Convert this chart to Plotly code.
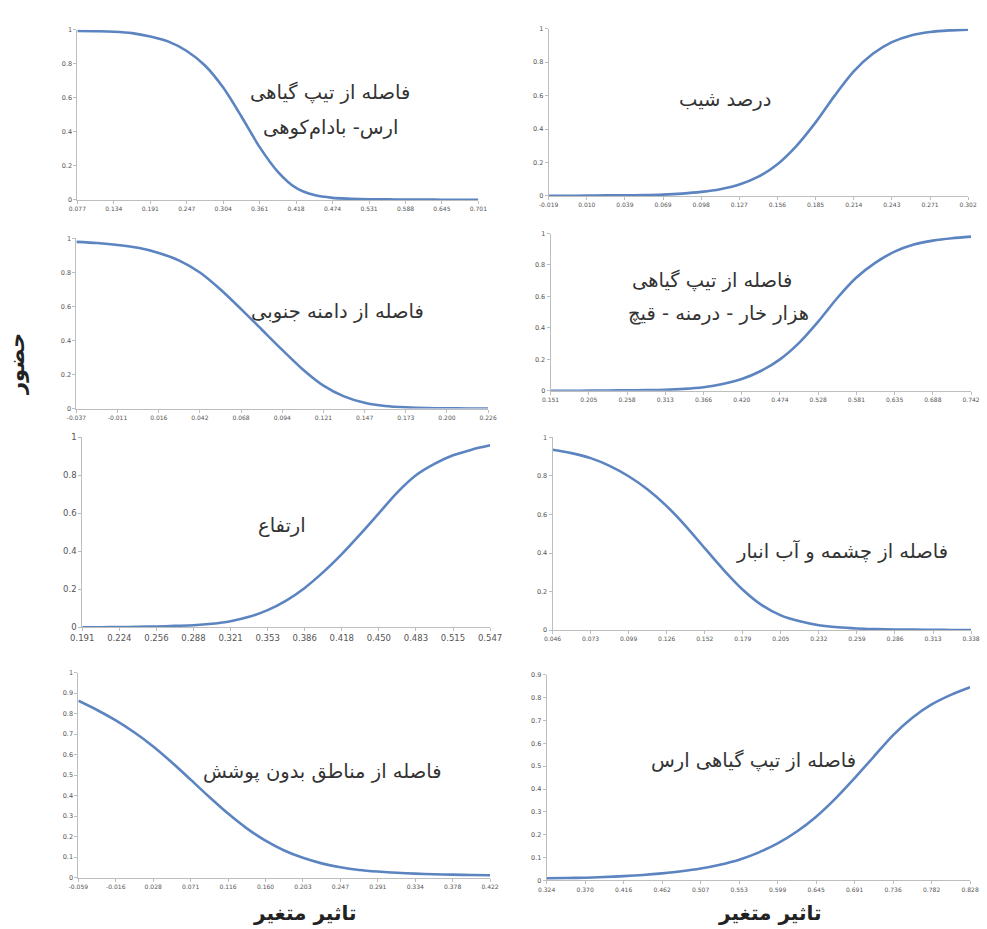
import plotly.graph_objects as go

# ---- tick labels (x) for each panel ----
labels_p1 = ["0.077", "0.134", "0.191", "0.247", "0.304", "0.361", "0.418", "0.474", "0.531", "0.588", "0.645", "0.701"]
labels_p2 = ["-0.019", "0.010", "0.039", "0.069", "0.098", "0.127", "0.156", "0.185", "0.214", "0.243", "0.271", "0.302"]
labels_p3 = ["-0.037", "-0.011", "0.016", "0.042", "0.068", "0.094", "0.121", "0.147", "0.173", "0.200", "0.226"]
labels_p4 = ["0.151", "0.205", "0.258", "0.313", "0.366", "0.420", "0.474", "0.528", "0.581", "0.635", "0.688", "0.742"]
labels_p5 = ["0.191", "0.224", "0.256", "0.288", "0.321", "0.353", "0.386", "0.418", "0.450", "0.483", "0.515", "0.547"]
labels_p6 = ["0.046", "0.073", "0.099", "0.126", "0.152", "0.179", "0.205", "0.232", "0.259", "0.286", "0.313", "0.338"]
labels_p7 = ["-0.059", "-0.016", "0.028", "0.071", "0.116", "0.160", "0.203", "0.247", "0.291", "0.334", "0.378", "0.422"]
labels_p8 = ["0.324", "0.370", "0.416", "0.462", "0.507", "0.553", "0.599", "0.645", "0.691", "0.736", "0.782", "0.828"]

# ---- response values (presence), sampled at every label and half-way between labels ----
resp_p1 = [0.993, 0.991, 0.988, 0.98, 0.96, 0.93, 0.875, 0.79, 0.66, 0.49, 0.31, 0.165, 0.07,
           0.028, 0.012, 0.007, 0.004, 0.003, 0.002, 0.002, 0.001, 0.001, 0.001]
resp_p2 = [0.001, 0.001, 0.002, 0.003, 0.004, 0.005, 0.008, 0.014, 0.024, 0.04, 0.068, 0.115, 0.19,
           0.3, 0.44, 0.6, 0.745, 0.85, 0.92, 0.96, 0.98, 0.99, 0.995]
resp_p3 = [0.98, 0.973, 0.962, 0.945, 0.915, 0.87, 0.8, 0.7, 0.585, 0.465, 0.345, 0.23, 0.135,
           0.072, 0.034, 0.015, 0.007, 0.003, 0.002, 0.001, 0.0]
resp_p4 = [0.0, 0.0, 0.001, 0.002, 0.003, 0.004, 0.006, 0.012, 0.023, 0.043, 0.075, 0.126, 0.2,
           0.305, 0.44, 0.59, 0.72, 0.815, 0.885, 0.93, 0.955, 0.97, 0.98]
resp_p5 = [0.0, 0.0, 0.001, 0.002, 0.004, 0.007, 0.01, 0.018, 0.032, 0.055, 0.09, 0.14, 0.207,
           0.29, 0.385, 0.49, 0.6, 0.71, 0.8, 0.86, 0.905, 0.935, 0.958]
resp_p6 = [0.935, 0.918, 0.892, 0.852, 0.798, 0.729, 0.643, 0.54, 0.425, 0.312, 0.21, 0.13, 0.077,
           0.046, 0.026, 0.015, 0.009, 0.006, 0.004, 0.003, 0.002, 0.001, 0.001]
resp_p7 = [0.863, 0.818, 0.767, 0.708, 0.64, 0.562, 0.478, 0.393, 0.312, 0.24, 0.18, 0.132, 0.096,
           0.069, 0.05, 0.037, 0.029, 0.023, 0.019, 0.016, 0.014, 0.012, 0.011]
resp_p8 = [0.01, 0.011, 0.012, 0.015, 0.019, 0.024, 0.031, 0.04, 0.052, 0.069, 0.091, 0.122, 0.162,
           0.214, 0.279, 0.358, 0.448, 0.542, 0.636, 0.712, 0.77, 0.812, 0.845]

titles = [
    ["فاصله از تیپ گیاهی", "ارس- بادام‌کوهی"],
    ["درصد شیب"],
    ["فاصله از دامنه جنوبی"],
    ["فاصله از تیپ گیاهی", "هزار خار - درمنه - قیچ"],
    ["ارتفاع"],
    ["فاصله از چشمه و آب انبار"],
    ["فاصله از مناطق بدون پوشش"],
    ["فاصله از تیپ گیاهی ارس"],
]
y_title = "حضور"
x_title = "تاثیر متغیر"

W, H = 987, 929

# panel frames in pixels: left, right, y of top tick, y of zero
frames = [
    (67, 478, 25, 197),
    (550, 980, 24, 193),
    (66, 488, 236, 408),
    (552, 983, 231, 390),
    (72, 490, 437, 629),
    (554, 983, 437, 632),
    (68, 490, 675, 882),
    (548, 982, 677, 885),
]
y_tops = [1, 1, 1, 1, 1, 1, 1, 0.9]
y_steps = [0.2, 0.2, 0.2, 0.2, 0.2, 0.2, 0.1, 0.1]
xtick_sizes = [6, 6, 6, 6, 8.5, 6, 6, 6]
ytick_sizes = [6.5, 6.5, 6.5, 6.5, 8.5, 6.5, 6.5, 6.5]

# text anchors in pixels (centre x, centre y) for each panel's caption lines
caption_pos = [
    [(326, 88), (326, 124)],
    [(731, 96)],
    [(334, 310)],
    [(717, 278), (724, 312)],
    [(277, 526)],
    [(851, 552)],
    [(318, 775)],
    [(760, 764)],
]

all_labels = [labels_p1, labels_p2, labels_p3, labels_p4, labels_p5, labels_p6, labels_p7, labels_p8]
all_resp = [resp_p1, resp_p2, resp_p3, resp_p4, resp_p5, resp_p6, resp_p7, resp_p8]

LINE = "#5b84c0"
AXIS = "#bdbdbd"
TICKFONT = "#555555"
TEXT = "#333333"
FONT = "DejaVu Sans"

fig = go.Figure()
layout = dict(
    width=W, height=H,
    margin=dict(l=0, r=0, t=0, b=0),
    paper_bgcolor="white", plot_bgcolor="white",
    showlegend=False,
    font=dict(family=FONT, color=TEXT),
)
annotations = []

for k in range(8):
    labels = all_labels[k]
    resp = all_resp[k]
    n = len(labels)
    pos = [j / 2 for j in range(len(resp))]
    ax = "" if k == 0 else str(k + 1)
    fig.add_trace(go.Scatter(
        x=pos, y=resp, mode="lines",
        line=dict(color=LINE, width=2.6, shape="spline", smoothing=0.8),
        xaxis="x" + ax, yaxis="y" + ax, hoverinfo="skip",
    ))
    left, right, ytop, yzero = frames[k]
    ntick = int(round(y_tops[k] / y_steps[k]))
    yvals = [round(i * y_steps[k], 1) for i in range(ntick + 1)]
    layout["xaxis" + ax] = dict(
        domain=[left / W, right / W], anchor="y" + ax,
        range=[0, n - 1],
        tickmode="array", tickvals=list(range(n)), ticktext=labels,
        showline=True, linecolor=AXIS, linewidth=1,
        ticks="outside", ticklen=3, tickcolor=AXIS,
        showgrid=False, zeroline=False,
        tickfont=dict(size=xtick_sizes[k], color=TICKFONT, family=FONT),
        tickangle=0, fixedrange=True,
    )
    layout["yaxis" + ax] = dict(
        domain=[1 - yzero / H, 1 - ytop / H], anchor="x" + ax,
        range=[0, y_tops[k]],
        tickmode="array", tickvals=yvals, ticktext=[f"{v:g}" for v in yvals],
        showline=True, linecolor=AXIS, linewidth=1,
        ticks="outside", ticklen=3, tickcolor=AXIS,
        showgrid=False, zeroline=False,
        tickfont=dict(size=ytick_sizes[k], color=TICKFONT, family=FONT),
        fixedrange=True,
    )
    for text, (cx, cy) in zip(titles[k], caption_pos[k]):
        annotations.append(dict(
            text=text, x=cx / W, y=1 - cy / H, xref="paper", yref="paper",
            xanchor="center", yanchor="middle", showarrow=False,
            font=dict(size=19.5, color=TEXT, family=FONT),
        ))

# shared axis titles
annotations.append(dict(
    text="<b>" + y_title + "</b>", x=5 / W, y=1 - 363 / H, xref="paper", yref="paper",
    xanchor="center", yanchor="middle", showarrow=False, textangle=-90,
    font=dict(size=21, color="#222222", family=FONT),
))
for cx in (300, 777):
    annotations.append(dict(
        text="<b>" + x_title + "</b>", x=cx / W, y=1 - 918 / H, xref="paper", yref="paper",
        xanchor="center", yanchor="middle", showarrow=False,
        font=dict(size=20, color="#222222", family=FONT),
    ))

layout["annotations"] = annotations
fig.update_layout(**layout)
fig.write_html("out.html")
